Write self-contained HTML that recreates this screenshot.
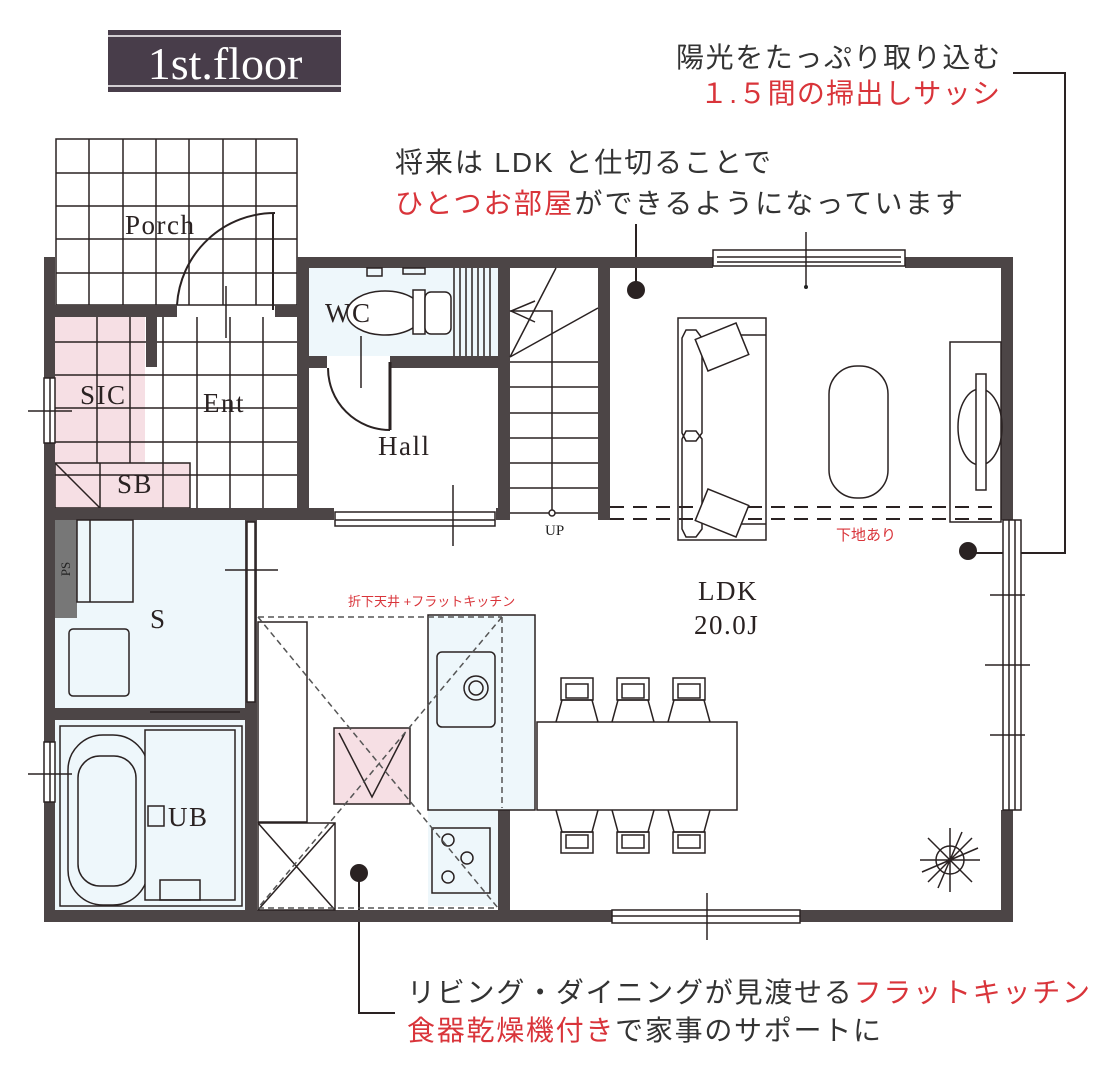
<!DOCTYPE html>
<html><head><meta charset="utf-8">
<style>
html,body{margin:0;padding:0;background:#fff;}
svg{display:block;}
.jp{font-family:"Liberation Sans","Noto Sans CJK JP",sans-serif;font-size:28px;fill:#333;}
.red{fill:#d9343a;}
.rm{font-family:"Liberation Serif",serif;font-size:27px;letter-spacing:1.5px;fill:#2a2222;}
.w{fill:#4c4546;}
.ln{stroke:#2a2222;stroke-width:2;fill:none;}
.th{stroke:#2a2222;stroke-width:1.5;fill:none;}
</style></head><body>
<svg width="1108" height="1066" viewBox="0 0 1108 1066" xmlns="http://www.w3.org/2000/svg">
<rect x="108" y="30" width="233" height="62" fill="#483d4a"/>
<line x1="108" y1="36" x2="341" y2="36" stroke="#fff" stroke-width="1.5"/>
<line x1="108" y1="86" x2="341" y2="86" stroke="#fff" stroke-width="1.5"/>
<text x="225" y="79" text-anchor="middle" font-family="Liberation Serif,serif" font-size="46" fill="#fff">1st.floor</text>

<text class="jp" x="676" y="67" textLength="324" lengthAdjust="spacing">陽光をたっぷり取り込む</text>
<text class="jp red" x="700" y="103" textLength="300" lengthAdjust="spacing">１.５間の掃出しサッシ</text>
<polyline points="1013,73 1065,73 1065,553 968,553" class="ln"/>
<circle cx="968" cy="551" r="9" fill="#2a2222"/>

<text class="jp" x="395" y="172" textLength="376" lengthAdjust="spacing">将来は LDK と仕切ることで</text>
<text class="jp" x="395" y="213" textLength="568" lengthAdjust="spacing"><tspan class="red">ひとつお部屋</tspan>ができるようになっています</text>
<line x1="636" y1="224" x2="636" y2="290" class="ln"/>
<circle cx="636" cy="290" r="9" fill="#2a2222"/>

<text class="jp" x="407" y="1002" textLength="683" lengthAdjust="spacing">リビング・ダイニングが見渡せる<tspan class="red">フラットキッチン</tspan></text>
<text class="jp" x="407" y="1040" textLength="474" lengthAdjust="spacing"><tspan class="red">食器乾燥機付き</tspan>で家事のサポートに</text>
<polyline points="359,873 359,1013 395,1013" class="ln"/>
<circle cx="359" cy="873" r="9" fill="#2a2222"/>

<rect x="55" y="317" width="90" height="146" fill="#f6dfe4"/>
<rect x="55" y="463" width="135" height="45" fill="#f6dfe4"/>
<rect x="309" y="268" width="189" height="88" fill="#eef7fb"/>
<rect x="55" y="520" width="190" height="188" fill="#eef7fb"/>
<rect x="55" y="720" width="190" height="190" fill="#eef7fb"/>
<rect x="428" y="615" width="107" height="195" fill="#eef7fb"/>
<rect x="428" y="810" width="70" height="96" fill="#eef7fb"/>

<g class="th">
<rect x="56" y="139" width="241" height="166"/>
<line x1="89" y1="139" x2="89" y2="305"/><line x1="123" y1="139" x2="123" y2="305"/><line x1="156" y1="139" x2="156" y2="305"/><line x1="189" y1="139" x2="189" y2="305"/><line x1="223" y1="139" x2="223" y2="305"/><line x1="256" y1="139" x2="256" y2="305"/>
<line x1="56" y1="173" x2="297" y2="173"/><line x1="56" y1="206" x2="297" y2="206"/><line x1="56" y1="239" x2="297" y2="239"/><line x1="56" y1="273" x2="297" y2="273"/>
<line x1="97" y1="317" x2="97" y2="463"/><line x1="130" y1="317" x2="130" y2="463"/><line x1="163" y1="317" x2="163" y2="508"/><line x1="197" y1="317" x2="197" y2="508"/><line x1="230" y1="317" x2="230" y2="508"/><line x1="263" y1="317" x2="263" y2="508"/>
<line x1="55" y1="342" x2="297" y2="342"/><line x1="55" y1="375" x2="297" y2="375"/><line x1="55" y1="408" x2="297" y2="408"/><line x1="55" y1="442" x2="297" y2="442"/><line x1="55" y1="475" x2="297" y2="475"/>
<rect x="55" y="463" width="135" height="45"/><line x1="100" y1="463" x2="100" y2="508"/><line x1="55" y1="463" x2="100" y2="508"/>
</g>
<path d="M177,305 A98,98 0 0 1 275,213" class="ln"/>
<line x1="273" y1="213" x2="273" y2="310" class="ln" stroke-width="3"/>
<line x1="226" y1="286" x2="226" y2="338" class="th"/>

<g class="w">
<rect x="44" y="257" width="11" height="665"/>
<rect x="44" y="305" width="133" height="12"/>
<rect x="275" y="305" width="34" height="12"/>
<rect x="146" y="317" width="11" height="50"/>
<rect x="297" y="257" width="12" height="263"/>
<rect x="297" y="257" width="416" height="11"/>
<rect x="905" y="257" width="108" height="11"/>
<rect x="297" y="356" width="30" height="12"/>
<rect x="390" y="356" width="120" height="12"/>
<rect x="498" y="257" width="12" height="263"/>
<rect x="598" y="257" width="12" height="263"/>
<rect x="44" y="508" width="290" height="12"/>
<rect x="496" y="508" width="14" height="12"/>
<rect x="1001" y="257" width="12" height="263"/>
<rect x="1001" y="810" width="12" height="112"/>
<rect x="44" y="910" width="568" height="12"/>
<rect x="800" y="910" width="213" height="12"/>
<rect x="245" y="520" width="12" height="402"/>
<rect x="44" y="708" width="213" height="12"/>
<rect x="498" y="810" width="12" height="112"/>
</g>
<rect x="55" y="520" width="22" height="98" fill="#777"/>
<text x="70" y="569" transform="rotate(-90 70 569)" text-anchor="middle" font-family="Liberation Serif,serif" font-size="13" fill="#222">PS</text>
<g class="th">
<rect x="713" y="250" width="192" height="16" fill="#fff"/><line x1="717" y1="257" x2="901" y2="257"/><line x1="717" y1="262" x2="901" y2="262"/>
<line x1="806" y1="232" x2="806" y2="288"/>
<rect x="612" y="910" width="188" height="13" fill="#fff"/><line x1="612" y1="916" x2="800" y2="916"/>
<line x1="707" y1="893" x2="707" y2="940"/>
<rect x="1003" y="520" width="18" height="290" fill="#fff"/><line x1="1009" y1="520" x2="1009" y2="810"/><line x1="1015" y1="520" x2="1015" y2="810"/>
<line x1="990" y1="595" x2="1025" y2="595"/><line x1="985" y1="665" x2="1030" y2="665"/><line x1="990" y1="735" x2="1025" y2="735"/>
<rect x="335" y="512" width="160" height="14" fill="#fff"/><line x1="335" y1="520" x2="495" y2="520"/>
<line x1="453" y1="485" x2="453" y2="546"/>
<rect x="44" y="378" width="11" height="65" fill="#fff"/><line x1="50" y1="378" x2="50" y2="443"/><line x1="28" y1="411" x2="72" y2="411"/>
<rect x="44" y="742" width="11" height="60" fill="#fff"/><line x1="50" y1="742" x2="50" y2="802"/><line x1="28" y1="774" x2="72" y2="774"/>
<rect x="247" y="522" width="8" height="180" fill="#fff"/>
<line x1="225" y1="570" x2="278" y2="570"/>
</g>

<g class="th">
<rect x="367" y="268" width="15" height="8"/><rect x="403" y="268" width="22" height="6"/>
<ellipse cx="385" cy="313" rx="38" ry="22" fill="#fff"/>
<rect x="413" y="290" width="12" height="44" fill="#fff"/>
<rect x="425" y="292" width="26" height="42" rx="6" fill="#fff"/>
<line x1="454" y1="268" x2="454" y2="356"/><line x1="460" y1="268" x2="460" y2="356"/><line x1="466" y1="268" x2="466" y2="356"/><line x1="472" y1="268" x2="472" y2="356"/><line x1="478" y1="268" x2="478" y2="356"/><line x1="484" y1="268" x2="484" y2="356"/><line x1="490" y1="268" x2="490" y2="356"/>
<path d="M328,368 A62,62 0 0 0 390,430" class="ln"/>
<line x1="390" y1="362" x2="390" y2="430" stroke-width="3"/>
<line x1="361" y1="336" x2="361" y2="388"/>
</g>
<g class="th">
<line x1="510" y1="362" x2="598" y2="362"/><line x1="510" y1="387" x2="598" y2="387"/><line x1="510" y1="413" x2="598" y2="413"/><line x1="510" y1="438" x2="598" y2="438"/><line x1="510" y1="463" x2="598" y2="463"/><line x1="510" y1="488" x2="598" y2="488"/><line x1="510" y1="513" x2="598" y2="513"/>
<line x1="510" y1="357" x2="556" y2="268"/><line x1="510" y1="357" x2="598" y2="308"/>
<polyline points="552,513 552,311 510,311"/>
<polyline points="535,301 511,311 535,322"/>
<circle cx="552" cy="513" r="3" fill="#fff"/>
</g>
<text x="545" y="535" font-family="Liberation Serif,serif" font-size="15" fill="#222">UP</text>
<g stroke="#2a2222" stroke-width="2" stroke-dasharray="14,9">
<line x1="610" y1="507" x2="1001" y2="507"/><line x1="610" y1="519" x2="1001" y2="519"/>
</g>
<g class="th">
<rect x="678" y="318" width="88" height="222"/>
<line x1="735" y1="335" x2="766" y2="335"/><line x1="735" y1="524" x2="766" y2="524"/>
<path d="M686,330 h10 l6,8 v95 l-6,8 h-10 l-4,-8 v-95 z"/>
<path d="M686,431 h10 l6,8 v90 l-6,8 h-10 l-4,-8 v-90 z"/>
<rect x="700" y="330" width="44" height="34" transform="rotate(-22 722 347)" fill="#fff"/>
<rect x="700" y="496" width="44" height="34" transform="rotate(22 722 513)" fill="#fff"/>
<rect x="829" y="366" width="59" height="132" rx="28"/>
<rect x="950" y="342" width="51" height="180"/>
<ellipse cx="980" cy="427" rx="22" ry="38"/>
<rect x="976" y="374" width="10" height="116" fill="#fff"/>
</g>
<circle cx="806" cy="287" r="2" fill="#222"/>
<text x="836" y="540" font-family="Liberation Sans,Noto Sans CJK JP,sans-serif" font-size="15" fill="#d9343a">下地あり</text>

<g class="th">
<rect x="77" y="520" width="56" height="82"/><line x1="90" y1="520" x2="90" y2="602"/>
<rect x="69" y="629" width="60" height="67" rx="4"/>
<rect x="60" y="726" width="182" height="180"/>
<rect x="68" y="735" width="80" height="170" rx="35"/>
<rect x="78" y="756" width="58" height="130" rx="22"/>
<rect x="145" y="730" width="90" height="170" fill="#eef7fb"/>
<rect x="148" y="806" width="16" height="20"/>
<line x1="150" y1="712" x2="240" y2="712"/>
<rect x="160" y="880" width="40" height="20"/>
</g>
<g class="th">
<rect x="428" y="615" width="107" height="195"/>
<rect x="437" y="652" width="58" height="75" rx="5"/>
<circle cx="476" cy="688" r="12"/><circle cx="476" cy="688" r="7"/>
<rect x="432" y="828" width="58" height="65"/>
<circle cx="448" cy="840" r="6"/><circle cx="467" cy="858" r="6"/><circle cx="448" cy="877" r="6"/>
<rect x="258" y="622" width="49" height="200"/>
<rect x="258" y="823" width="77" height="87"/>
<line x1="258" y1="823" x2="335" y2="910"/><line x1="335" y1="823" x2="258" y2="910"/>
<rect x="334" y="728" width="76" height="76" fill="#f6dfe4"/>
<polyline points="339,733 372,797 405,733"/>
</g>
<g stroke="#555" stroke-width="1.5" stroke-dasharray="6,4" fill="none">
<line x1="258" y1="617" x2="502" y2="617"/><line x1="502" y1="617" x2="502" y2="808"/>
<line x1="258" y1="617" x2="498" y2="908"/><line x1="502" y1="617" x2="258" y2="908"/>
<line x1="258" y1="908" x2="498" y2="908"/>
</g>
<text x="348" y="606" font-family="Liberation Sans,Noto Sans CJK JP,sans-serif" font-size="13" fill="#d9343a">折下天井 +フラットキッチン</text>
<g class="th">
<rect x="537" y="722" width="200" height="88" fill="#fff"/>
<g id="ch"><rect x="561" y="678" width="32" height="22"/><rect x="566" y="684" width="22" height="14"/><polyline points="556,722 562,700 592,700 598,722"/><rect x="561" y="832" width="32" height="21"/><rect x="566" y="835" width="22" height="13"/><polyline points="556,810 562,832 592,832 598,810"/></g>
<use href="#ch" x="56"/><use href="#ch" x="112"/>
</g>
<g stroke="#2a2222" stroke-width="1.5" fill="none">
<circle cx="950" cy="860" r="14"/>
<path d="M950,860 l0,-32 M950,860 l22,-22 M950,860 l30,0 M950,860 l22,22 M950,860 l0,32 M950,860 l-22,22 M950,860 l-30,0 M950,860 l-22,-22 M950,860 l12,-28 M950,860 l-28,12 M950,860 l28,-12 M950,860 l-12,28"/>
</g>

<text class="rm" x="125" y="234">Porch</text>
<text class="rm" x="203" y="412">Ent</text>
<text class="rm" x="80" y="404">SIC</text>
<text class="rm" x="117" y="493" font-size="20">SB</text>
<text class="rm" x="325" y="322">WC</text>
<text class="rm" x="378" y="455">Hall</text>
<text class="rm" x="150" y="628">S</text>
<text class="rm" x="168" y="826">UB</text>
<text class="rm" x="698" y="600">LDK</text>
<text class="rm" x="694" y="634">20.0J</text>
</svg>
</body></html>
